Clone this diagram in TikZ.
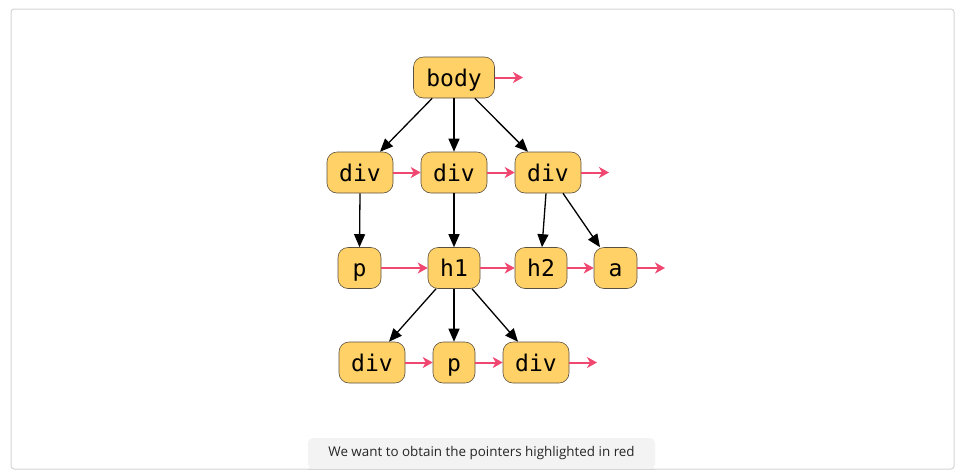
\documentclass[tikz,border=0pt]{standalone}
\usepackage{fontspec}
\setmainfont{Open Sans}
\newfontfamily\monofont{DejaVu Sans Mono}
\usetikzlibrary{arrows.meta}
\definecolor{nodefill}{HTML}{FFD166}
\definecolor{nodeline}{HTML}{5A5040}
\definecolor{ptr}{HTML}{EF476F}
\definecolor{frame}{HTML}{D4D4D4}
\definecolor{capbg}{HTML}{F3F3F3}
\begin{document}
\begin{tikzpicture}[x=1pt,y=-1pt,
  elem/.style={draw=nodeline, line width=0.6pt, fill=nodefill, rounded corners=10pt,
    minimum height=41pt, inner sep=0pt, text height=17pt, text depth=0pt,
    font=\monofont\fontsize{23}{24}\selectfont},
  child/.style={-{Triangle[length=13pt,width=11pt]}, line width=1.3pt, black},
  sib/.style={-{Stealth[length=10pt,width=11pt,inset=3pt]}, line width=2pt, ptr}]
\useasboundingbox (0,0) rectangle (961,475);
\draw[frame, line width=1pt, rounded corners=3pt] (11,9) rectangle (954,469);
\fill[capbg, rounded corners=5pt] (308,438) rectangle (655,469);
\draw[frame, line width=1pt] (308,469) -- (655,469);
\node[font=\fontsize{13.4}{15}\selectfont, text=black!85] (cap) at (481.5,453) {We want to obtain the pointers highlighted in red};

\node[elem, minimum width=81pt] (body) at (454,77.5) {body};
\node[elem, minimum width=66pt] (d1) at (360,172.5) {div};
\node[elem, minimum width=66pt] (d2) at (454,172.5) {div};
\node[elem, minimum width=66pt] (d3) at (548,172.5) {div};
\node[elem, minimum width=43pt] (p1) at (359.5,268) {p};
\node[elem, minimum width=52pt] (h1) at (454,268) {h1};
\node[elem, minimum width=52pt] (h2) at (541,268) {h2};
\node[elem, minimum width=43pt] (a) at (615.5,268) {a};
\node[elem, minimum width=66pt] (d4) at (372,362.5) {div};
\node[elem, minimum width=42pt] (p2) at (454,362.5) {p};
\node[elem, minimum width=66pt] (d5) at (536,362.5) {div};

\coordinate (e1) at (523,77.5);
\coordinate (e2) at (609,172.5);
\coordinate (e3) at (665,268);
\coordinate (e4) at (597,362.5);

% child links
\draw[child] ([xshift=19pt]body.south west) -- ([xshift=20pt]d1.north);
\draw[child] (body.south) -- (d2.north);
\draw[child] ([xshift=-20pt]body.south east) -- ([xshift=-20pt]d3.north);
\draw[child] (d1.south) -- (p1.north);
\draw[child] (d2.south) -- (h1.north);
\draw[child] ([xshift=-2pt]d3.south) -- ([xshift=1pt]h2.north);
\draw[child] ([xshift=15pt]d3.south) -- ([xshift=-15.5pt]a.north);
\draw[child] ([xshift=-18pt]h1.south) -- ([xshift=17pt]d4.north);
\draw[child] (h1.south) -- (p2.north);
\draw[child] ([xshift=18pt]h1.south) -- ([xshift=-18pt]d5.north);

% sibling pointers
\draw[sib] (body.east) -- (e1);
\draw[sib] (d1.east) -- (d2.west);
\draw[sib] (d2.east) -- (d3.west);
\draw[sib] (d3.east) -- (e2);
\draw[sib] (p1.east) -- (h1.west);
\draw[sib] (h1.east) -- (h2.west);
\draw[sib] (h2.east) -- (a.west);
\draw[sib] (a.east) -- (e3);
\draw[sib] (d4.east) -- (p2.west);
\draw[sib] (p2.east) -- (d5.west);
\draw[sib] (d5.east) -- (e4);
\end{tikzpicture}
\end{document}
